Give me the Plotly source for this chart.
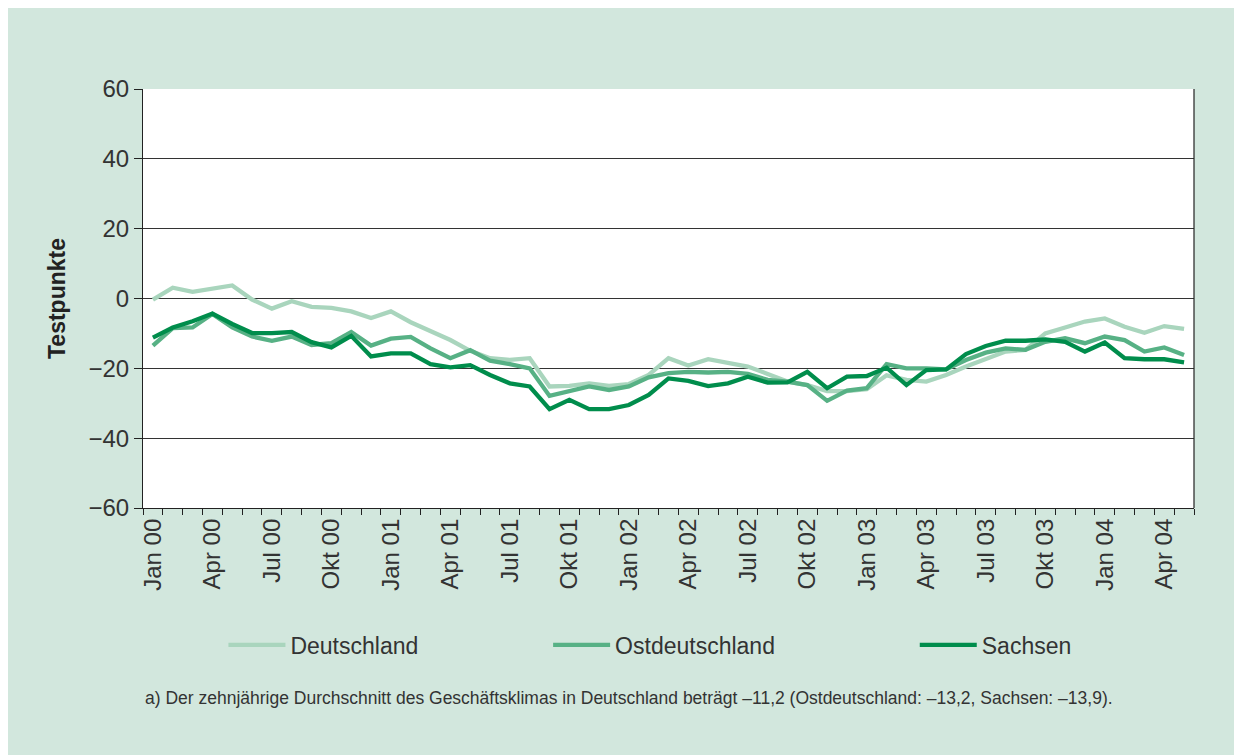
import plotly.graph_objects as go

# ---- data ----
month_names = ["Jan", "Feb", "Mär", "Apr", "Mai", "Jun", "Jul", "Aug", "Sep", "Okt", "Nov", "Dez"]
categories = [f"{month_names[m]} {y:02d}" for y in range(0, 5) for m in range(12)][:53]  # Jan 00 .. Mai 04

deutschland = [-0.3, 3.1, 1.9, 2.9, 3.75, -0.3, -2.9, -0.8, -2.4, -2.7,
               -3.7, -5.6, -3.7, -6.8, -9.2, -11.9, -15.0, -17.1, -17.6, -17.1,
               -25.2, -25.0, -24.3, -25.0, -24.5, -21.9, -17.1, -19.2, -17.4, -18.4,
               -19.5, -21.6, -23.8, -24.8, -26.5, -26.5, -26.0, -22.0, -23.3, -23.8,
               -21.9, -19.5, -17.4, -15.2, -14.7, -10.0, -8.3, -6.6, -5.7, -8.1,
               -9.8, -7.9, -8.7]
ostdeutschland = [-13.5, -8.5, -8.3, -4.4, -8.3, -10.9, -12.1, -10.9, -13.3, -12.8,
                  -9.6, -13.5, -11.5, -11.0, -14.3, -17.1, -14.8, -17.8, -18.8, -20.0,
                  -27.9, -26.4, -25.2, -26.2, -25.2, -22.6, -21.4, -21.0, -21.2, -21.0,
                  -21.6, -23.3, -23.8, -24.8, -29.3, -26.4, -25.7, -18.8, -20.0, -20.0,
                  -20.3, -17.6, -15.5, -14.3, -14.7, -12.4, -11.4, -12.8, -10.9, -11.9,
                  -15.2, -14.0, -16.2]
sachsen = [-11.2, -8.3, -6.5, -4.3, -7.3, -9.9, -9.9, -9.6, -12.5, -14.0,
           -10.7, -16.6, -15.7, -15.7, -18.8, -19.7, -19.1, -21.9, -24.3, -25.2,
           -31.7, -29.0, -31.7, -31.7, -30.5, -27.6, -22.9, -23.6, -25.1, -24.3,
           -22.4, -24.1, -24.0, -21.0, -25.7, -22.4, -22.2, -19.8, -24.8, -20.5,
           -20.3, -15.9, -13.6, -12.1, -12.1, -11.7, -12.4, -15.2, -12.6, -17.1,
           -17.4, -17.4, -18.3]

series_names = ["Deutschland", "Ostdeutschland", "Sachsen"]
series_values = [deutschland, ostdeutschland, sachsen]
series_colors = ["#a9d5bd", "#57b185", "#008d4c"]

y_ticks = [-60, -40, -20, 0, 20, 40, 60]
x_positions = list(range(len(categories)))
label_positions = x_positions[::3]
label_texts = categories[::3]

footnote = ("a) Der zehnjährige Durchschnitt des Geschäftsklimas in Deutschland beträgt "
            "–11,2 (Ostdeutschland: –13,2, Sachsen: –13,9).")

W, H = 1242, 755
L, R, T, B = 134.5, 55.5, 81, 255
pw, ph = W - L - R, H - T - B
plot_bottom = T + ph

legend_keys = ["legend", "legend2", "legend3"]
legend_line_starts = [222, 547, 914]   # pixel positions of legend samples

fig = go.Figure()
for name, vals, col, lk in zip(series_names, series_values, series_colors, legend_keys):
    fig.add_trace(go.Scatter(x=x_positions, y=vals, mode="lines", name=name, legend=lk,
                             line=dict(color=col, width=4.3), hoverinfo="skip"))

font_family = "Liberation Sans, Arial, sans-serif"
text_col = "#333333"

legend_common = dict(orientation="h", xanchor="left", yanchor="middle",
                     y=(plot_bottom - 637) / ph,
                     font=dict(size=23, color=text_col, family=font_family),
                     bgcolor="rgba(0,0,0,0)", itemwidth=57)

layout_legends = {}
for lk, xs in zip(legend_keys, legend_line_starts):
    layout_legends[lk] = dict(legend_common, x=(xs - 7 - L) / pw)

fig.update_layout(
    width=W, height=H,
    margin=dict(l=L, r=R, t=T, b=B, autoexpand=False),
    paper_bgcolor="#d2e7dd",
    plot_bgcolor="white",
    font=dict(family=font_family, color=text_col, size=21),
    showlegend=True,
    xaxis=dict(range=[-0.5, len(categories) - 0.5], tickmode="array",
               tickvals=label_positions, ticktext=label_texts, tickangle=-90,
               ticks="", showgrid=False, zeroline=False, showline=True,
               linecolor="#222", linewidth=1.2, mirror=False,
               tickfont=dict(size=24, color=text_col),
               minor=dict(tick0=-0.5, dtick=1, ticks="outside", ticklen=6,
                          tickcolor="#222", tickwidth=1, showgrid=False)),
    yaxis=dict(range=[-60, 60], tickmode="array", tickvals=y_ticks,
               ticks="outside", ticklen=8, tickcolor="#222", tickwidth=1,
               showgrid=True, gridcolor="#333", gridwidth=1, zeroline=False,
               showline=True, linecolor="#222", linewidth=1.2,
               tickfont=dict(size=24, color=text_col),
               title=dict(text="<b>Testpunkte</b>", font=dict(size=23, color="#222"),
                          standoff=16)),
    **layout_legends,
)

# right frame line
fig.add_shape(type="line", xref="paper", yref="paper", x0=1, x1=1, y0=0, y1=1,
              line=dict(color="#222", width=1.2))

fig.add_annotation(text=footnote, xref="paper", yref="paper",
                   x=(135 - L) / pw, y=(plot_bottom - 690) / ph, xanchor="left", yanchor="middle",
                   showarrow=False, font=dict(size=17.5, color=text_col))

fig.write_html("out.html")
